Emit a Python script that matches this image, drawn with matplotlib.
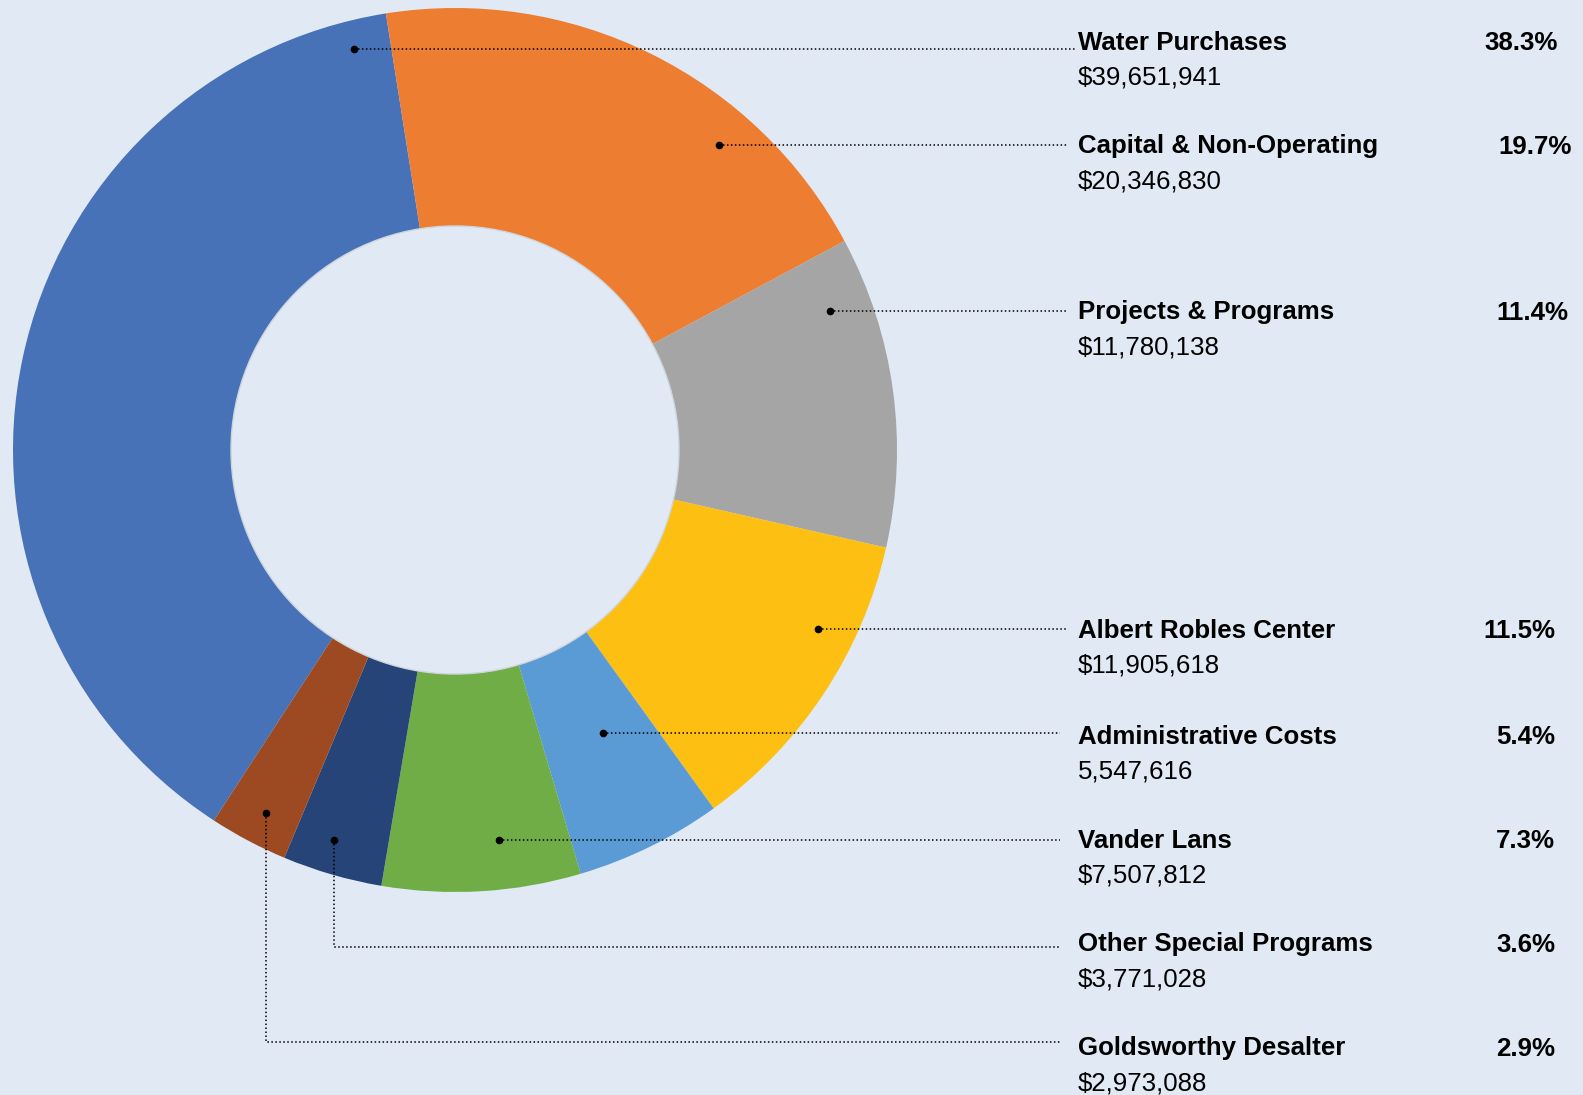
import matplotlib.pyplot as plt
from matplotlib.patches import Circle

plt.rcParams['font.family'] = ['Liberation Sans', 'DejaVu Sans']

# data (legend order)
categories = ["Water Purchases", "Capital & Non-Operating", "Projects & Programs",
              "Albert Robles Center", "Administrative Costs", "Vander Lans",
              "Other Special Programs", "Goldsworthy Desalter"]
amounts = [39651941, 20346830, 11780138, 11905618, 5547616, 7507812, 3771028, 2973088]
currency = ["$", "$", "$", "$", "", "$", "$", "$"]
colors = ["#4872B8", "#ED7D31", "#A5A5A5", "#FDBF12", "#5B9BD5", "#70AD47", "#264478", "#9D4A23"]

# layout (pixels, top-left origin)
W, H = 1583, 1095
cx, cy = 455, 450
r_out, r_in = 442, 224
name_y = [42.5, 146.5, 312.5, 631.5, 736.5, 840.5, 944.5, 1048.5]
amt_y = [78, 182, 347, 666, 771, 875, 979, 1083]
line_y = [48.5, 145, 311, 629, 733, 840, 947, 1042]
line_end = [1076, 1068, 1068, 1068, 1060, 1060, 1060, 1060]
pct_x = [1558, 1572, 1568, 1555, 1555, 1555, 1555, 1555]
anchors = [(354, 48.5), (719, 145), (830, 311), (818, 629),
           (603, 733), (499, 840), (334, 840), (266, 813)]

bg = "#E1E9F4"
fig = plt.figure(figsize=(W / 100, H / 100), dpi=100, facecolor=bg)
ax = fig.add_axes([0, 0, 1, 1])
ax.set_facecolor(bg)

total = sum(amounts)
start = 99 + 360 * amounts[0] / total
ax.pie(amounts, colors=colors, startangle=start, counterclock=False,
       center=(cx, H - cy), radius=r_out,
       wedgeprops=dict(width=r_out - r_in, linewidth=0))
ax.add_patch(Circle((cx, H - cy), r_in, facecolor='none', edgecolor='#cfd5dd', lw=1.0, zorder=3))

for i, name in enumerate(categories):
    axp, ayp = anchors[i]
    ly = line_y[i]
    if abs(ayp - ly) > 1:
        xs = [axp, axp, line_end[i]]
        ys = [H - ayp, H - ly, H - ly]
    else:
        xs = [axp, line_end[i]]
        ys = [H - ly, H - ly]
    ax.plot(xs, ys, color='black', lw=1.1, dashes=(1, 1.6), zorder=4)
    ax.plot([axp], [H - ayp], 'o', color='black', ms=4.5, zorder=5)

    ax.text(1078, H - name_y[i], name, fontsize=18.6, fontweight='bold',
            ha='left', va='center', color='black')
    ax.text(1078, H - amt_y[i], f"{currency[i]}{amounts[i]:,}", fontsize=18.6,
            ha='left', va='center', color='black')
    pct = 100 * amounts[i] / total
    ax.text(pct_x[i], H - name_y[i], f"{pct:.1f}%", fontsize=18.6, fontweight='bold',
            ha='right', va='center', color='black')

ax.set_xlim(0, W)
ax.set_ylim(0, H)
ax.set_aspect('auto')
ax.axis('off')

fig.savefig('out.png', dpi=100, facecolor=bg)
